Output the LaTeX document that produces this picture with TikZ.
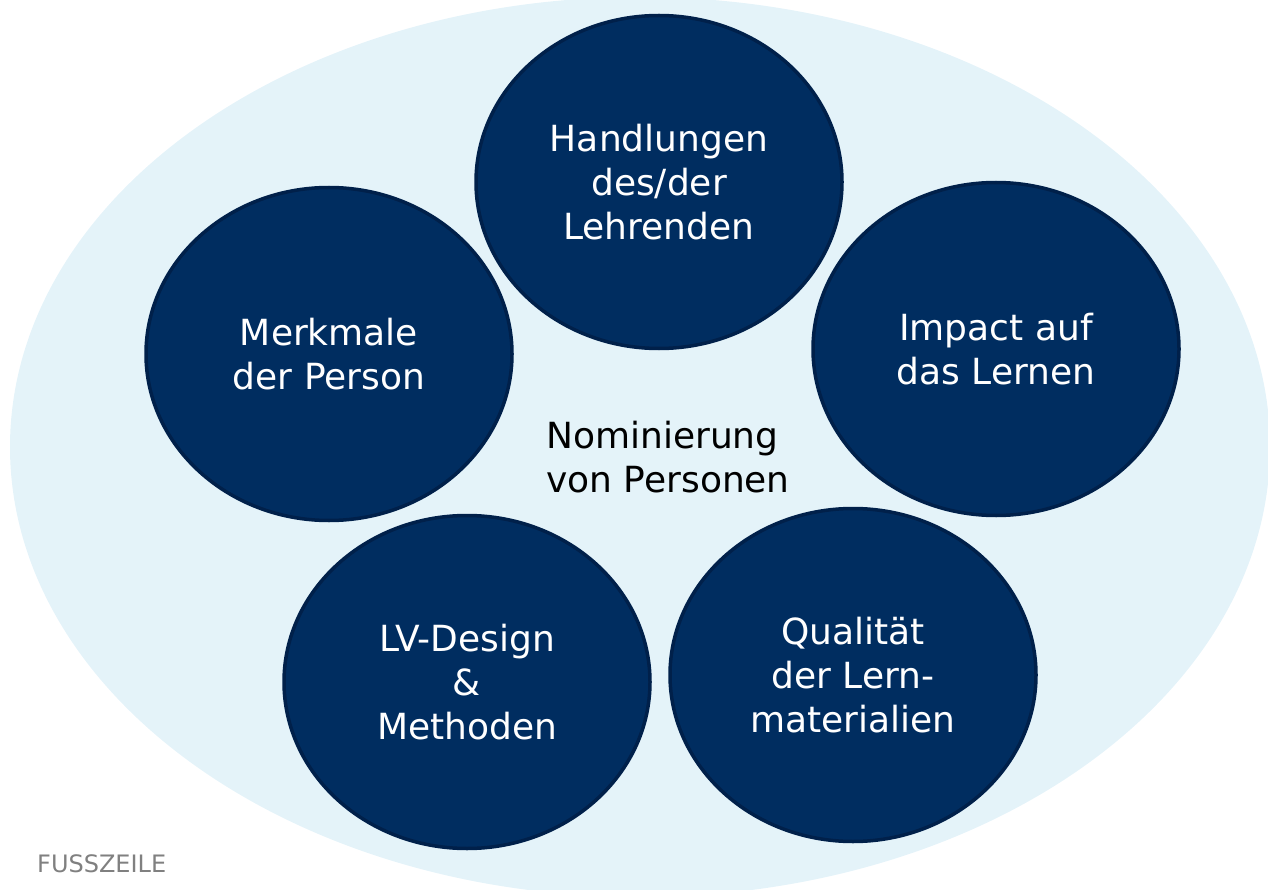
\documentclass[tikz,border=0pt]{standalone}
\usepackage{fontspec}
\setmainfont{DejaVu Sans}
\usetikzlibrary{shapes.geometric}
\definecolor{navy}{RGB}{0,45,96}
\definecolor{navyedge}{RGB}{0,32,74}
\definecolor{pale}{RGB}{228,243,249}
\definecolor{footgray}{RGB}{128,128,128}
\begin{document}
\begin{tikzpicture}[x=1pt,y=-1pt,
  bubble/.style={ellipse, fill=navy, draw=navyedge, line width=3.5pt,
    minimum width=366pt, minimum height=333pt, inner sep=0pt,
    text=white, align=center, font=\fontsize{36}{44}\selectfont},
  centertext/.style={align=left, text=black, inner sep=0pt, font=\fontsize{36}{44}\selectfont},
  foot/.style={anchor=base west, text=footgray, inner sep=0pt, font=\fontsize{24}{28}\selectfont}]
\useasboundingbox (0,0) rectangle (1268,890);
\begin{scope}
\clip (0,0) rectangle (1268,890);
\fill[pale] (640,447) ellipse [x radius=630pt, y radius=450pt];
\end{scope}
\node[bubble] (hand) at (659,182) {Handlungen\\des/der\\Lehrenden};
\node[bubble] (merk) at (329,354) {Merkmale\\der Person};
\node[bubble] (imp) at (996,349) {Impact auf\\das Lernen};
\node[bubble] (lv) at (467,682) {LV-Design\\\&\\Methoden};
\node[bubble] (qual) at (853,675) {Qualität\\der Lern-\\materialien};
\node[centertext] (nom) at (668,457) {Nominierung\\von Personen};
\node[foot] (fz) at (37,872) {FUSSZEILE};
\end{tikzpicture}
\end{document}
